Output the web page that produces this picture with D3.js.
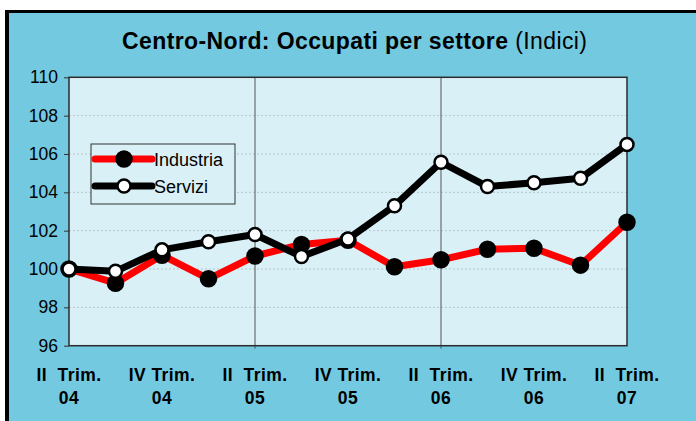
<!DOCTYPE html>
<html>
<head>
<meta charset="utf-8">
<script src="https://cdn.jsdelivr.net/npm/d3@7"></script>
<style>
  body { margin: 0; background: #fff; }
  svg { display: block; font-family: "Liberation Sans", Arial, sans-serif; }
</style>
</head>
<body>
<div id="chart"></div>
<script>
// quarters from II trim 2004 to II trim 2007
let quarters = ["II 04", "III 04", "IV 04", "I 05", "II 05", "III 05", "IV 05",
    "I 06", "II 06", "III 06", "IV 06", "I 07", "II 07"];
let industria = [100, 99.26, 100.72, 99.49, 100.68, 101.28, 101.5, 100.12, 100.48, 101.03, 101.08, 100.2, 102.44];
let servizi = [100, 99.88, 101.0, 101.42, 101.8, 100.65, 101.57, 103.3, 105.57, 104.3, 104.5, 104.73, 106.5];
let yTicks = [96, 98, 100, 102, 104, 106, 108, 110];
let xLabels = [
    { q: "II 04", l1: "II  Trim.", l2: "04" },
    { q: "IV 04", l1: "IV Trim.", l2: "04" },
    { q: "II 05", l1: "II  Trim.", l2: "05" },
    { q: "IV 05", l1: "IV Trim.", l2: "05" },
    { q: "II 06", l1: "II  Trim.", l2: "06" },
    { q: "IV 06", l1: "IV Trim.", l2: "06" },
    { q: "II 07", l1: "II  Trim.", l2: "07" }
];
let dividers = ["II 05", "II 06"];

let W = 696, H = 421;
let plot = { left: 69, right: 627, top: 77.3, bottom: 345.7 };

let svg = d3.select("#chart").append("svg")
    .attr("width", W)
    .attr("height", H);

// outer frame: black left and top edges, the rest runs off the picture
svg.append("rect")
    .attr("x", 5).attr("y", 10)
    .attr("width", W).attr("height", H)
    .attr("fill", "#000");
svg.append("rect")
    .attr("x", 9).attr("y", 13)
    .attr("width", W).attr("height", H)
    .attr("fill", "#73C9DF");

svg.append("text")
    .attr("x", 122).attr("y", 49)
    .style("font-size", "23px")
    .style("letter-spacing", "0.4px")
    .call(function (t) {
        t.append("tspan").attr("font-weight", "bold").text("Centro-Nord: Occupati per settore ");
        t.append("tspan").text("(Indici)");
    });

let x = d3.scalePoint()
    .domain(quarters)
    .range([plot.left, plot.right]);

let y = d3.scaleLinear()
    .domain([96, 110])
    .range([plot.bottom, plot.top]);

svg.append("rect")
    .attr("x", plot.left).attr("y", plot.top)
    .attr("width", plot.right - plot.left)
    .attr("height", plot.bottom - plot.top)
    .attr("fill", "#DAF0F7");

// dotted grid
svg.append("g")
    .selectAll("line")
    .data(yTicks.slice(1, -1))
    .enter()
    .append("line")
    .attr("x1", plot.left).attr("x2", plot.right)
    .attr("y1", function (d) { return y(d); })
    .attr("y2", function (d) { return y(d); })
    .attr("stroke", "#b9c6cb")
    .attr("stroke-width", 1)
    .attr("stroke-dasharray", "2,2");

// year dividers
svg.append("g")
    .selectAll("line")
    .data(dividers)
    .enter()
    .append("line")
    .attr("x1", function (d) { return x(d); })
    .attr("x2", function (d) { return x(d); })
    .attr("y1", plot.top).attr("y2", plot.bottom + 3)
    .attr("stroke", "#555")
    .attr("stroke-width", 1);

let yAxis = svg.append("g")
    .attr("transform", "translate(" + plot.left + ",0)")
    .call(d3.axisLeft(y).tickValues(yTicks).tickSize(5).tickPadding(6));
yAxis.select(".domain").remove();
yAxis.selectAll("line").attr("stroke", "#333");
yAxis.selectAll("text")
    .attr("fill", "#000")
    .style("font-size", "17.5px")
    .style("font-family", "'Liberation Sans', Arial, sans-serif");

svg.append("rect")
    .attr("x", plot.left).attr("y", plot.top)
    .attr("width", plot.right - plot.left)
    .attr("height", plot.bottom - plot.top)
    .attr("fill", "none")
    .attr("stroke", "#2b2b2b")
    .attr("stroke-width", 1.5);

// category labels on two lines
let lab = svg.append("g")
    .selectAll("text")
    .data(xLabels)
    .enter()
    .append("text")
    .attr("text-anchor", "middle")
    .attr("font-weight", "bold")
    .style("font-size", "17.5px")
    .style("letter-spacing", "0.4px")
    .style("white-space", "pre");
lab.append("tspan")
    .attr("x", function (d) { return x(d.q); })
    .attr("y", 381)
    .text(function (d) { return d.l1; });
lab.append("tspan")
    .attr("x", function (d) { return x(d.q); })
    .attr("y", 403.5)
    .text(function (d) { return d.l2; });

let line = d3.line()
    .x(function (d, i) { return x(quarters[i]); })
    .y(function (d) { return y(d); });

let series = [
    { name: "Industria", values: industria, color: "#FF0000", dot: "#000", dotStroke: "#000", r: 7.5 },
    { name: "Servizi", values: servizi, color: "#000", dot: "#fff", dotStroke: "#000", r: 6.5 }
];

series.forEach(function (s) {
    svg.append("path")
        .datum(s.values)
        .attr("fill", "none")
        .attr("stroke", s.color)
        .attr("stroke-width", 7)
        .attr("stroke-linejoin", "round")
        .attr("d", line);
    svg.append("g")
        .selectAll("circle")
        .data(s.values)
        .enter()
        .append("circle")
        .attr("cx", function (d, i) { return x(quarters[i]); })
        .attr("cy", function (d) { return y(d); })
        .attr("r", s.r)
        .attr("fill", s.dot)
        .attr("stroke", s.dotStroke)
        .attr("stroke-width", 2.5);
});

// legend
let leg = svg.append("g").attr("transform", "translate(91,144)");
leg.append("rect")
    .attr("width", 144).attr("height", 60)
    .attr("fill", "#DAF0F7")
    .attr("stroke", "#333")
    .attr("stroke-width", 1);
series.forEach(function (s, i) {
    let ly = 15 + i * 27;
    leg.append("line")
        .attr("x1", 4).attr("x2", 61)
        .attr("y1", ly).attr("y2", ly)
        .attr("stroke", s.color)
        .attr("stroke-width", 7)
        .attr("stroke-linecap", "round");
    leg.append("circle")
        .attr("cx", 33).attr("cy", ly)
        .attr("r", s.r)
        .attr("fill", s.dot)
        .attr("stroke", s.dotStroke)
        .attr("stroke-width", 2.5);
    leg.append("text")
        .attr("x", 63).attr("y", ly + 7)
        .style("font-size", "18px")
        .text(s.name);
});
</script>
</body>
</html>
